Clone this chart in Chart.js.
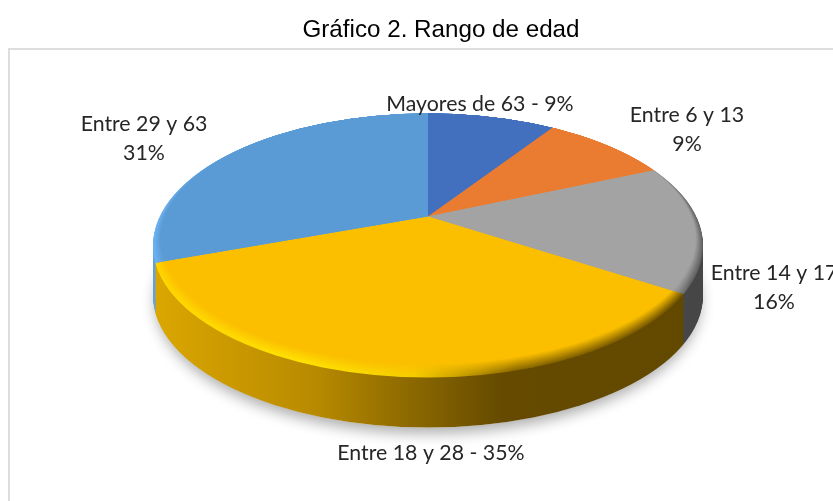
<!DOCTYPE html>
<html>
<head>
<meta charset="utf-8">
<style>
html, body { margin: 0; padding: 0; background: #fff; overflow: hidden; }
#wrap { position: relative; width: 882px; height: 501px; }
</style>
<script src="https://cdn.jsdelivr.net/npm/chart.js@4"></script>
</head>
<body>
<div id="wrap"><canvas id="edadChart" width="882" height="501"></canvas></div>
<script>
// data, clockwise from the top
const categories = ["Mayores de 63", "Entre 6 y 13", "Entre 14 y 17", "Entre 18 y 28", "Entre 29 y 63"];
const values = [9, 9, 16, 35, 31];
const chartTitle = "Gráfico 2. Rango de edad";

const faceColors = ["#4270BF", "#E97C30", "#A3A3A3", "#FBBF00", "#5B9BD5"];
// side wall and bevel colours as [x, colour] stops across the pie
const sideStops = [
    [[0, "#2F5597"]],
    [[0, "#A5591F"]],
    [[0, "#6a6a6a"], [0.92, "#4a4a4a"], [1, "#464646"]],
    [[0, "#DEA900"], [0.32, "#B88A00"], [0.5, "#8A6700"], [0.66, "#654A00"], [1, "#634800"]],
    [[0, "#5FA2DE"]]
];
const rimStops = [
    [[0, "#4270BF"]],
    [[0, "#E97C30"]],
    [[0, "#A3A3A3"], [0.82, "#A8A8A8"], [0.95, "#909090"], [1, "#606060"]],
    [[0, "#FFD500"], [0.3, "#FFE300"], [0.5, "#F5CC00"], [0.68, "#8C6A00"], [1, "#6E5200"]],
    [[0, "#6DB5F5"], [0.5, "#5B9BD5"], [1, "#5B9BD5"]]
];

// label text lines and where they sit (centre x, middle y)
const labelLines = [
    ["Mayores de 63 - 9%"],
    ["Entre 6 y 13", "9%"],
    ["Entre 14 y 17", "16%"],
    ["Entre 18 y 28 - 35%"],
    ["Entre 29 y 63", "31%"]
];
const labelPos = [[480, 104], [687, 115], [774, 273], [431, 453], [144, 124]];

// how the flat pie gets tilted
const tilt = { dx: -13, k: 0.46, shear: 0.012, rx: 275, ry: 132, dy: 29, depth: 50, bevel: 12 };

function hexRgb(h) {
    return [1, 3, 5].map(i => parseInt(h.substr(i, 2), 16));
}
function mix(a, b, t) {
    const x = hexRgb(a), y = hexRgb(b);
    return "rgb(" + x.map((v, i) => Math.round(v + (y[i] - v) * t)).join(",") + ")";
}
function xGradient(ctx, cx, stops, face, t) {
    const g = ctx.createLinearGradient(cx - tilt.rx, 0, cx + tilt.rx, 0);
    stops.forEach(s => g.addColorStop(s[0], face ? mix(s[1], face, t) : s[1]));
    return g;
}

function drawLayer(ctx, arcs, cx, cy, offY, insetX, insetY, fills) {
    ctx.save();
    ctx.beginPath();
    ctx.ellipse(cx, cy + tilt.dy + offY - insetY, tilt.rx - insetX, tilt.ry - insetY, 0, 0, Math.PI * 2);
    ctx.clip();
    // squash the pie about its own centre, the ellipse above cuts the outer edge
    ctx.transform(1, tilt.shear, 0, tilt.k, tilt.dx, cy + offY - tilt.k * cy - tilt.shear * arcs[0].x);
    arcs.forEach((arc, i) => {
        const saved = arc.options;
        arc.options = Object.assign({}, saved, { backgroundColor: fills[i], borderWidth: 0 });
        arc.draw(ctx);
        arc.options = saved;
    });
    ctx.restore();
}

const tiltedPie = {
    id: "tiltedPie",
    beforeDraw(chart) {
        const ctx = chart.ctx;
        ctx.save();
        ctx.fillStyle = "#fff";
        ctx.fillRect(0, 0, chart.width, chart.height);
        ctx.strokeStyle = "#DDDDDD";
        ctx.lineWidth = 2;
        ctx.strokeRect(9, 49, chart.width, chart.height);
        ctx.restore();
    },
    beforeDatasetsDraw(chart) {
        const ctx = chart.ctx;
        const arcs = chart.getDatasetMeta(0).data;
        const cx = arcs[0].x + tilt.dx, cy = arcs[0].y;

        // soft shadow on the floor
        ctx.save();
        ctx.shadowColor = "rgba(0,0,0,0.32)";
        ctx.shadowBlur = 14;
        ctx.shadowOffsetY = 6;
        ctx.fillStyle = "#fff";
        ctx.beginPath();
        ctx.ellipse(cx, cy + tilt.dy + tilt.depth, tilt.rx - 2, tilt.ry, 0, 0, Math.PI * 2);
        ctx.fill();
        ctx.restore();

        // side wall, built from the bottom up
        const sides = sideStops.map(s => xGradient(ctx, cx, s));
        for (let d = tilt.depth; d > 0; d--) {
            drawLayer(ctx, arcs, cx, cy, d, 0, 0, sides);
        }
        // top face with the bevel fading in from the edge
        for (let b = 0; b <= tilt.bevel; b++) {
            const t = b / tilt.bevel;
            const fills = rimStops.map((s, i) => xGradient(ctx, cx, s, faceColors[i], t));
            drawLayer(ctx, arcs, cx, cy, 0, b * 0.6, b * 0.55, fills);
        }
        return false;
    },
    afterDraw(chart) {
        const ctx = chart.ctx;
        ctx.save();
        ctx.font = "21.3px Lato";
        ctx.fillStyle = "#262626";
        ctx.textAlign = "center";
        ctx.textBaseline = "middle";
        labelLines.forEach((lines, i) => {
            lines.forEach((txt, n) => ctx.fillText(txt, labelPos[i][0], labelPos[i][1] + n * 29));
        });
        ctx.restore();
    }
};

new Chart(document.getElementById("edadChart"), {
    type: "pie",
    plugins: [tiltedPie],
    data: {
        labels: categories,
        datasets: [{
            data: values,
            backgroundColor: faceColors,
            borderWidth: 0,
            radius: 420
        }]
    },
    options: {
        responsive: false,
        animation: false,
        layout: { padding: { bottom: 113 } },
        plugins: {
            legend: { display: false },
            tooltip: { enabled: false },
            title: {
                display: true,
                text: chartTitle,
                color: "#000",
                font: { family: "Liberation Sans", size: 24.2, weight: "normal" },
                padding: { top: 16, bottom: 0 }
            }
        }
    }
});
</script>
</body>
</html>
